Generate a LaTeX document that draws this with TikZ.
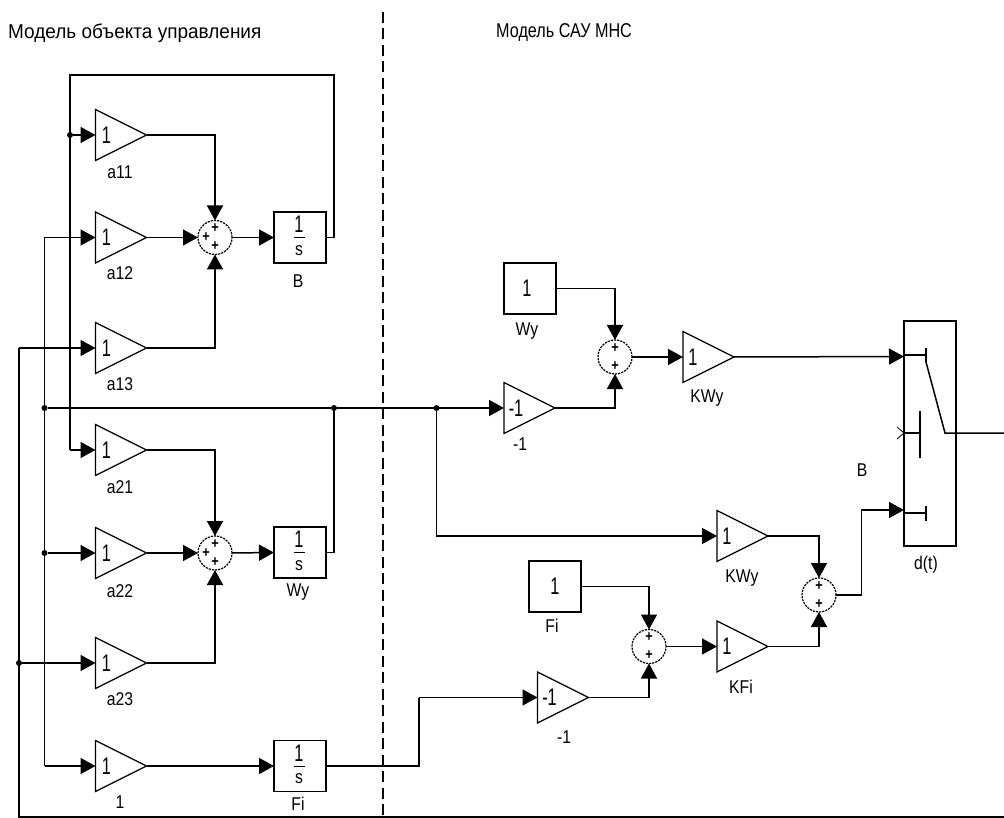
\documentclass[tikz,border=0pt]{standalone}
\usepackage{fontspec}
\setmainfont[FakeStretch=0.85]{Liberation Sans}
\newfontfamily\titlea[FakeStretch=0.95]{Liberation Sans}
\newfontfamily\titleb[FakeStretch=0.81]{Liberation Sans}
\newfontfamily\gainfont[FakeStretch=0.68]{Liberation Sans}
\usetikzlibrary{arrows.meta,shapes.geometric,calc}
\tikzset{
  wire/.style={draw=black,line width=1.5pt,line join=miter},
  flow/.style={wire,-{Triangle[length=15pt,width=16pt]}},
  gainbox/.style={shape=isosceles triangle,isosceles triangle stretches,shape border rotate=0,
     minimum width=51pt,minimum height=51pt,inner sep=0pt,outer sep=0pt,draw=black,line width=1.2pt,anchor=lower side},
  sumbox/.style={shape=circle,minimum size=34pt,inner sep=0pt,outer sep=0pt,draw=black,line width=1.2pt,dash pattern=on 2.2pt off 1pt},
  blockbox/.style={shape=rectangle,minimum width=52pt,minimum height=51pt,inner sep=0pt,outer sep=0pt,draw=black,line width=1.3pt},
  txt/.style={font=\fontsize{18.5pt}{20pt}\selectfont,inner sep=0pt},
  ttla/.style={font=\titlea\fontsize{20pt}{22pt}\selectfont,inner sep=0pt},
  ttlb/.style={font=\titleb\fontsize{20pt}{22pt}\selectfont,inner sep=0pt},
  gaintxt/.style={font=\gainfont\fontsize{24pt}{26pt}\selectfont,inner sep=0pt},
  sign/.style={font=\fontsize{15pt}{15pt}\selectfont\bfseries,inner sep=0pt},
  dot/.style={shape=circle,fill=black,minimum size=6pt,inner sep=0pt,outer sep=0pt}
}
\newcommand{\gainblk}[5]{%
  \node[gainbox] (#1) at (#2,#3) {};
  \node[gaintxt] (#1v) at (#2+#5,#3) {#4};
}
\newcommand{\intblk}[3]{%
  \node[blockbox] (#1) at (#2,#3) {};
  \node[gaintxt] (#1n) at (#2-1,#3-13) {1};
  \node[txt] (#1d) at (#2-1,#3+13) {s};
  \coordinate (#1a) at (#2-6.5,#3);
  \coordinate (#1b) at (#2+4.5,#3);
  \draw[line width=1pt] (#1a) -- (#1b);
}
\newcommand{\sumthree}[3]{%
  \node[sumbox] (#1) at (#2,#3) {};
  \node[sign] (#1p) at (#2,#3-9) {+};
  \node[sign] (#1q) at (#2-9,#3) {+};
  \node[sign] (#1r) at (#2,#3+9) {+};
}
\newcommand{\sumtwo}[3]{%
  \node[sumbox] (#1) at (#2,#3) {};
  \node[sign] (#1p) at (#2,#3-9) {+};
  \node[sign] (#1r) at (#2,#3+9) {+};
}
\begin{document}
\begin{tikzpicture}[x=1pt,y=-1pt]
\useasboundingbox (0,0) rectangle (1004,818);
% titles
\node[ttla,anchor=west] (t1) at (8,33) {Модель объекта управления};
\node[ttlb,anchor=west] (t2) at (496,33) {Модель САУ МНС};
% divider
\coordinate (da) at (383,12);
\coordinate (db) at (383,818);
\draw[line width=1.4pt,dash pattern=on 11pt off 5.5pt] (da) -- (db);
% gains left
\gainblk{a11}{95.5}{135}{1}{11}
\gainblk{a12}{95.5}{237.5}{1}{11}
\gainblk{a13}{95.5}{348}{1}{11}
\gainblk{a21}{95.5}{450}{1}{11}
\gainblk{a22}{95.5}{553}{1}{11}
\gainblk{a23}{95.5}{663}{1}{11}
\gainblk{a31}{95.5}{766}{1}{11}
\node[txt] (la11) at (120,172) {a11};
\node[txt] (la12) at (120,273) {a12};
\node[txt] (la13) at (120,384) {a13};
\node[txt] (la21) at (120,487) {a21};
\node[txt] (la22) at (120,591) {a22};
\node[txt] (la23) at (120,699) {a23};
\node[txt] (la31) at (120,802) {1};
% sums left
\sumthree{s1}{215}{237.5}
\sumthree{s2}{215}{553}
% integrators
\intblk{iB}{300}{237.5}
\intblk{iW}{300}{552.5}
\intblk{iF}{300}{766}
\node[txt] (lB) at (298,281) {B};
\node[txt] (lW) at (298,592) {Wy};
\node[txt] (lF) at (298,804) {Fi};
% right constants and gains
\node[blockbox] (cW) at (530,288.5) {};
\node[gaintxt] (cWv) at (527,288.5) {1};
\node[txt] (lcW) at (527,331) {Wy};
\gainblk{gW}{504}{408}{-1}{12}
\node[txt] (lgW) at (520,444) {-1};
\sumtwo{s3}{615}{357}
\gainblk{kW}{683}{357}{1}{10}
\node[txt] (lkW) at (707,398) {KWy};
\gainblk{kW2}{717}{536}{1}{10}
\node[txt] (lkW2) at (742,578) {KWy};
\node[blockbox] (cF) at (555,586.5) {};
\node[gaintxt] (cFv) at (555,586.5) {1};
\node[txt] (lcF) at (552,626) {Fi};
\sumtwo{s4}{649}{646.5}
\gainblk{gF}{537.5}{697.5}{-1}{12}
\node[txt] (lgF) at (564,737) {-1};
\gainblk{kF}{717}{646.5}{1}{10}
\node[txt] (lkF) at (741,687) {KFi};
\sumtwo{s5}{819}{595}
\node[txt] (lsB) at (862,470) {B};
\node[txt] (ld) at (926,565) {d(t)};
% switch
\node[shape=rectangle,draw=black,line width=1.3pt,minimum width=52pt,minimum height=225pt,inner sep=0pt,outer sep=0pt] (sw) at (930,433.5) {};
\coordinate (swin1) at (904,356.5);
\coordinate (swc) at (904,433);
\coordinate (swin3) at (904,510);
\coordinate (sw1s) at (904,355);
\coordinate (sw3s) at (904,513);
\coordinate (t1a) at (926,355);
\coordinate (t1t) at (926,348);
\coordinate (t1b) at (926,362);
\coordinate (t3a) at (926,513);
\coordinate (t3t) at (926,506);
\coordinate (t3b) at (926,521);
\coordinate (piv) at (945,433);
\coordinate (cb) at (920,433);
\coordinate (ct) at (920,411);
\coordinate (cu) at (920,458);
\coordinate (ch1) at (897,427);
\coordinate (ch2) at (897,439);
\coordinate (out) at (1004,433);
\draw[wire] (sw1s) -- (t1a);
\draw[line width=2.6pt] (t1t) -- (t1b);
\draw[wire] (t1b) -- (piv) -- (out);
\draw[wire] (sw3s) -- (t3a);
\draw[line width=2.6pt] (t3t) -- (t3b);
\draw[line width=1.3pt] (swc) -- (cb);
\draw[line width=1.3pt] (ct) -- (cu);
\draw[line width=0.8pt] (ch1) -- (swc) -- (ch2);
% junctions
\coordinate (top1) at (334,75);
\coordinate (top2) at (70,75);
\coordinate (bend1) at (334,237.5);
\coordinate (j21) at (70,450);
\node[dot] (j11) at (70,135) {};
\coordinate (jb) at (19,817);
\coordinate (jbr) at (1004,817);
\node[dot] (jh) at (44.5,408) {};
\node[dot] (jw) at (334,408) {};
\node[dot] (jr) at (436.5,408) {};
\node[dot] (j22) at (44.5,553) {};
\node[dot] (j23) at (19,663) {};
\coordinate (jf) at (419,697.5);
\coordinate (jc) at (44.5,237.5);
\coordinate (je) at (19,348);
\coordinate (jg) at (44.5,766);
\coordinate (jsw) at (861.5,595);
\coordinate (jsv) at (861.5,510);
% left wires
\draw[wire] (iB.east) -- (bend1) -- (top1) -- (top2) -- (j21);
\draw[flow] (j21) -- (a21.lower side);
\draw[flow] (j11) -- (a11.lower side);
\draw[flow] (a12.apex) -- (s1.west);
\draw[flow] (s1.east) -- (iB.west);
\draw[flow] (a11.apex) -| (s1.north);
\draw[flow] (a13.apex) -| (s1.south);
\draw[flow] (jc) -- (a12.lower side);
\draw[wire] (jc) -- (jg);
\draw[flow] (jg) -- (a31.lower side);
\draw[flow] (je) -- (a13.lower side);
\draw[wire] (je) -- (jb) -- (jbr);
\draw[flow] (j23) -- (a23.lower side);
\draw[flow] (j22) -- (a22.lower side);
\draw[flow] (a22.apex) -- (s2.west);
\draw[flow] (s2.east) -- (iW.west);
\draw[flow] (a21.apex) -| (s2.north);
\draw[flow] (a23.apex) -| (s2.south);
\draw[wire] (iW.east) -| (jw);
\draw[wire] (jh) -- (jw);
\draw[flow] (jw) -- (gW.lower side);
\draw[flow] (a31.apex) -- (iF.west);
\draw[wire] (iF.east) -| (jf);
\draw[flow] (jf) -- (gF.lower side);
% right wires
\draw[flow] (cW.east) -| (s3.north);
\draw[flow] (gW.apex) -| (s3.south);
\draw[flow] (s3.east) -- (kW.lower side);
\draw[flow] (kW.apex) -- (swin1);
\draw[flow] (jr) |- (kW2.lower side);
\draw[flow] (kW2.apex) -| (s5.north);
\draw[flow] (kF.apex) -| (s5.south);
\draw[flow] (cF.east) -| (s4.north);
\draw[flow] (gF.apex) -| (s4.south);
\draw[flow] (s4.east) -- (kF.lower side);
\draw[flow] (s5.east) -- (jsw) -- (jsv) -- (swin3);
\end{tikzpicture}
\end{document}
